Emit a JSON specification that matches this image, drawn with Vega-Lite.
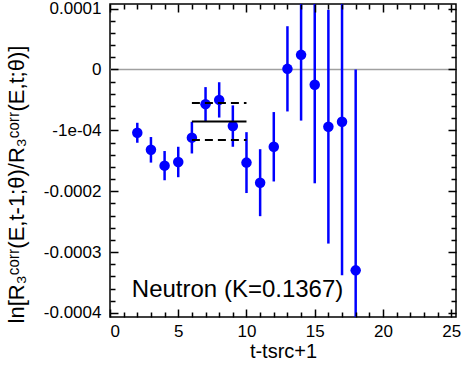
{
  "$schema": "https://vega.github.io/schema/vega-lite/v6.json",
  "width": 346,
  "height": 313,
  "autosize": "none",
  "padding": {"left": 110, "top": 4, "right": 7, "bottom": 52},
  "config": {
    "font": "Liberation Sans",
    "view": {"stroke": "black", "strokeWidth": 1.5},
    "axis": {"labelColor": "black", "titleColor": "black", "labelFont": "Liberation Sans", "titleFont": "Liberation Sans", "titleFontWeight": "normal"}
  },
  "datasets": {
    "pts": [
      {"t": 2, "r": -0.000104, "err": 0.0000164},
      {"t": 3, "r": -0.000132, "err": 0.000021},
      {"t": 4, "r": -0.000158, "err": 0.000024},
      {"t": 5, "r": -0.000152, "err": 0.000025},
      {"t": 6, "r": -0.000112, "err": 0.000026},
      {"t": 7, "r": -0.000057, "err": 0.000028},
      {"t": 8, "r": -0.00005, "err": 0.000029},
      {"t": 9, "r": -0.000093, "err": 0.000034},
      {"t": 10, "r": -0.000153, "err": 0.00005},
      {"t": 11, "r": -0.000186, "err": 0.000055},
      {"t": 12, "r": -0.000127, "err": 0.000057},
      {"t": 13, "r": 0.000001, "err": 0.00007},
      {"t": 14, "r": 0.000024, "err": 0.000108},
      {"t": 15, "r": -0.000025, "err": 0.000162},
      {"t": 16, "r": -0.000094, "err": 0.000192},
      {"t": 17, "r": -0.000086, "err": 0.000252},
      {"t": 18, "r": -0.00033, "err": 0.00033}
    ],
    "fit": [
      {"t0": 6, "t1": 10, "v": -0.0000855, "kind": "central"},
      {"t0": 6, "t1": 10, "v": -0.000055, "kind": "upper"},
      {"t0": 6, "t1": 10, "v": -0.000116, "kind": "lower"}
    ],
    "note": [
      {"label": "Neutron (K=0.1367)"}
    ]
  },
  "layer": [
    {
      "data": {"name": "note"},
      "mark": {"type": "rule", "color": "#a0a0a0", "strokeWidth": 1.5},
      "encoding": {
        "y": {"datum": 0, "type": "quantitative", "axis": null}
      }
    },
    {
      "data": {"name": "pts"},
      "transform": [
        {"calculate": "datum.r - datum.err", "as": "lo"},
        {"calculate": "datum.r + datum.err", "as": "hi"}
      ],
      "mark": {"type": "rule", "color": "#0000ff", "strokeWidth": 2.5, "clip": true},
      "encoding": {
        "x": {"field": "t", "type": "quantitative",
              "scale": {"domain": [0, 25.35], "nice": false, "zero": false},
              "axis": {"orient": "bottom", "values": [0, 5, 10, 15, 20, 25], "domain": false, "ticks": false, "zindex": 1,
                       "grid": true, "gridColor": "black", "gridWidth": 1.5, "gridOpacity": 1, "gridDash": [8, 297, 8, 100],
                       "labelFontSize": 17, "labelPadding": 6, "title": "t-tsrc+1", "titleFontSize": 20, "titlePadding": 2}},
        "y": {"field": "lo", "type": "quantitative",
              "scale": {"domain": [-0.0004066, 0.0001075], "nice": false, "zero": false},
              "axis": {"orient": "left", "values": [0.0001, 0, -0.0001, -0.0002, -0.0003, -0.0004], "domain": false, "ticks": false, "zindex": 1,
                       "grid": true, "gridColor": "black", "gridWidth": 1.5, "gridOpacity": 1, "gridDash": [8, 330, 8, 100],
                       "labelFontSize": 17, "labelPadding": 9,
                       "labelExpr": "datum.value > 0.00005 ? '0.0001' : datum.value > -0.00005 ? '0' : datum.value > -0.00015 ? '-1e-04' : datum.value > -0.00025 ? '-0.0002' : datum.value > -0.00035 ? '-0.0003' : '-0.0004'",
                       "title": "ln[R₃ᶜᵒʳʳ(E,t-1;θ)/R₃ᶜᵒʳʳ(E,t;θ)]", "titleFontSize": 22, "titleY": 180, "titleX": -82}},
        "y2": {"field": "hi"}
      }
    },
    {
      "data": {"name": "pts"},
      "mark": {"type": "point", "filled": true, "color": "#0000ff", "size": 110, "opacity": 1},
      "encoding": {
        "x": {"field": "t", "type": "quantitative",
              "axis": {"orient": "top", "values": [1,2,3,4,6,7,8,9,11,12,13,14,16,17,18,19,21,22,23,24], "domain": false, "ticks": false, "zindex": 1,
                       "grid": true, "gridColor": "black", "gridWidth": 1.5, "gridOpacity": 1, "gridDash": [5, 303, 5, 100], "labels": false, "title": null}},
        "y": {"field": "r", "type": "quantitative",
              "axis": {"orient": "right", "values": [0.00008,0.00006,0.00004,0.00002,-0.00002,-0.00004,-0.00006,-0.00008,-0.00012,-0.00014,-0.00016,-0.00018,-0.00022,-0.00024,-0.00026,-0.00028,-0.00032,-0.00034,-0.00036,-0.00038], "domain": false, "ticks": false, "zindex": 1,
                       "grid": true, "gridColor": "black", "gridWidth": 1.5, "gridOpacity": 1, "gridDash": [5, 336, 5, 100], "labels": false, "title": null}}
      }
    },
    {
      "data": {"name": "fit"},
      "mark": {"type": "rule", "color": "black", "strokeWidth": 2},
      "encoding": {
        "x": {"field": "t0", "type": "quantitative", "axis": null},
        "x2": {"field": "t1"},
        "y": {"field": "v", "type": "quantitative", "axis": null},
        "strokeDash": {"field": "kind", "type": "nominal", "scale": {"domain": ["central", "upper", "lower"], "range": [[1, 0], [8, 5], [8, 5]]}, "legend": null}
      }
    },
    {
      "data": {"name": "note"},
      "mark": {"type": "text", "align": "left", "baseline": "middle", "fontSize": 24, "color": "black", "font": "Liberation Sans"},
      "encoding": {
        "x": {"datum": 1.6, "type": "quantitative", "axis": null},
        "y": {"datum": -0.000362, "type": "quantitative", "axis": null},
        "text": {"field": "label"}
      }
    }
  ],
  "resolve": {"axis": {"x": "independent", "y": "independent"}}
}
